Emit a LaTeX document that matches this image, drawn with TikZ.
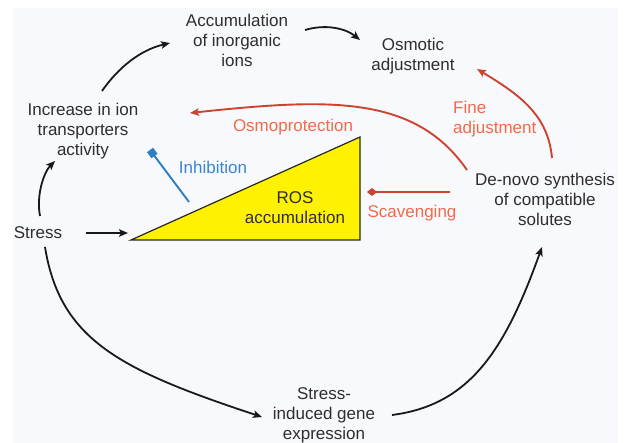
\documentclass[tikz,border=0pt]{standalone}
\usepackage{fontspec}
\setmainfont{Liberation Sans}
\usetikzlibrary{arrows.meta}
\definecolor{txt}{HTML}{2E2E2E}
\definecolor{redln}{HTML}{CC4430}
\definecolor{redtx}{HTML}{F26A4A}
\definecolor{blueln}{HTML}{2F7DC3}
\definecolor{bluetx}{HTML}{3A85CE}
\definecolor{rosyel}{HTML}{FFF200}
\definecolor{bgc}{HTML}{F8F9FC}
\tikzset{
  lbl/.style={inner sep=0pt, align=center, text=txt, font=\fontsize{17}{20}\selectfont},
  redlbl/.style={lbl, text=redtx},
  bluelbl/.style={lbl, text=bluetx},
  blk/.style={draw=black!90, line width=1.8pt, -{Stealth[length=9pt,width=7.5pt,inset=2pt]}},
  redarr/.style={draw=redln, line width=1.9pt, -{Stealth[length=9pt,width=7.5pt,inset=2pt]}},
  scavarr/.style={draw=redln, line width=1.9pt, -{Diamond[length=10pt,width=8pt]}},
  inhibarr/.style={draw=blueln, line width=1.9pt, -{Square[length=7.5pt,width=7.5pt]}},
}
\begin{document}
\begin{tikzpicture}[x=1pt,y=-1pt]
\useasboundingbox (0,0) rectangle (624,443);
\fill[bgc] (13,8) rectangle (618,443);
% triangle
\draw[fill=rosyel, draw=black!85, line width=1.2pt] (131,240) -- (360,240) -- (360,137) -- cycle;
% nodes
\node[lbl] (acc) at (237,40) {Accumulation\\of inorganic\\ions};
\node[lbl] (osm) at (413,56) {Osmotic\\adjustment};
\node[lbl] (incr) at (83,131) {Increase in ion\\transporters\\activity};
\node[lbl] (stress) at (38,233) {Stress};
\node[lbl] (denovo) at (545,199) {De-novo synthesis\\of compatible\\solutes};
\node[lbl] (sig) at (324,415) {Stress-\\induced gene\\expression};
\node[lbl] (ros) at (295,208) {ROS\\accumulation};
\node[redlbl] (osmoprot) at (293,127) {Osmoprotection};
\node[redlbl, align=left, anchor=west] (fine) at (453,119) {Fine\\adjustment};
\node[bluelbl] (inhib) at (213,167) {Inhibition};
\node[redlbl] (scav) at (412,213) {Scavenging};
% black connectors
\draw[blk] ([shift={(2,-17)}]stress.center) .. controls (36,195) and (44,172) .. ([shift={(-28,30)}]incr.center);
\draw[blk] ([shift={(19,-40)}]incr.center) .. controls (118,68) and (140,50) .. ([shift={(-67,3)}]acc.center);
\draw[blk] ([shift={(68,-10)}]acc.center) .. controls (325,24) and (345,28) .. ([shift={(-53,-16)}]osm.center);
\draw[blk] ([shift={(48,0)}]stress.center) -- ([shift={(-167,25)}]ros.center);
\draw[blk] ([shift={(7,14)}]stress.center) .. controls (60,340) and (120,370) .. ([shift={(-62,2)}]sig.center);
\draw[blk] ([shift={(68,0)}]sig.center) .. controls (470,405) and (505,350) .. ([shift={(-3,48)}]denovo.center);
% red connectors
\draw[redarr] ([shift={(-78,-29)}]denovo.center) .. controls (415,95) and (330,98) .. ([shift={(107,-18)}]incr.center);
\draw[redarr] ([shift={(7,-41)}]denovo.center) .. controls (548,115) and (520,95) .. ([shift={(64,13)}]osm.center);
\draw[scavarr] ([shift={(-95,-7)}]denovo.center) -- ([shift={(72,-16)}]ros.center);
% blue inhibition
\draw[inhibarr] ([shift={(-106,-6)}]ros.center) -- ([shift={(67,19)}]incr.center);
\end{tikzpicture}
\end{document}
